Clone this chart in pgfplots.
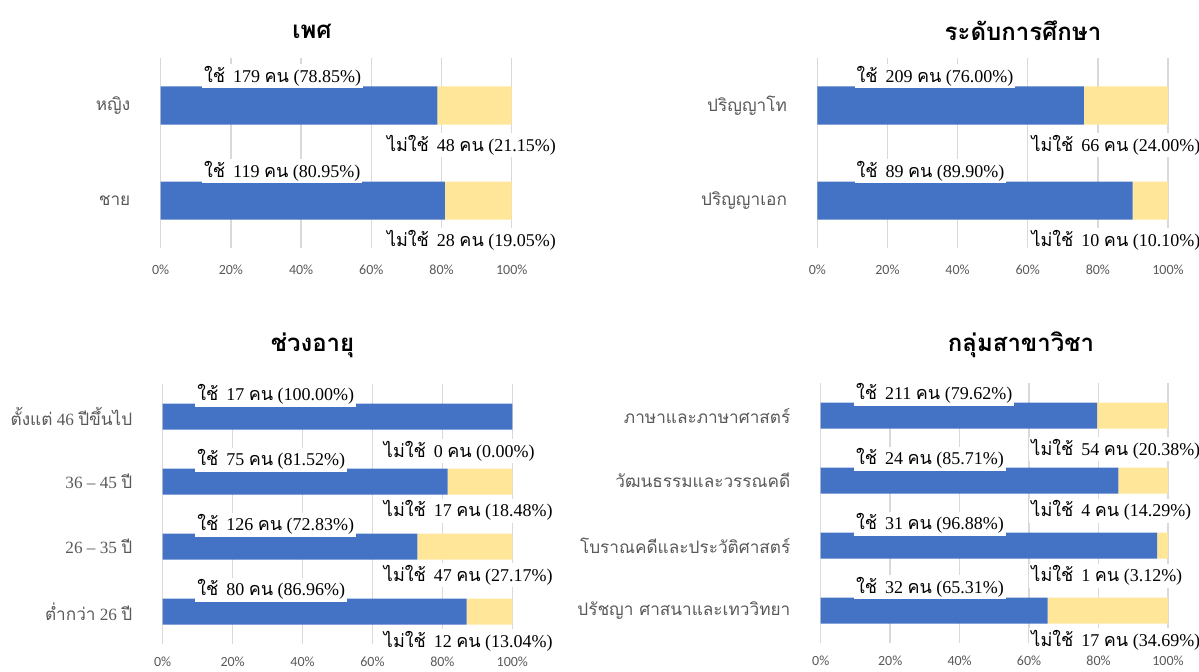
\documentclass[border=0pt]{standalone}
\usepackage{fontspec}
\setmainfont{Liberation Serif}
\newfontfamily\thai[Script=Thai]{Loma}
\newfontfamily\carlito{Carlito}
\usepackage{pgfplots}
\pgfplotsset{compat=1.18}
\definecolor{barblue}{HTML}{4472C4}
\definecolor{baryel}{HTML}{FFE699}
\definecolor{txtgray}{HTML}{595959}
\definecolor{gridgray}{HTML}{D9D9D9}
\newcommand{\T}[1]{{\thai #1}}
\newcommand{\lab}[3]{\node[anchor=base west, fill=white, inner sep=1pt, font=\fontsize{9}{10}\selectfont] at (axis cs:#1,#2) {#3};}
\newcommand{\yes}[2]{\T{ใช้}\hspace{4pt}#1 \T{คน} (#2\%)}
\newcommand{\no}[2]{\T{ไม่ใช้}\hspace{4pt}#1 \T{คน} (#2\%)}
\pgfplotsset{panel/.style={
  xbar stacked, scale only axis, anchor=south west,
  y dir=reverse, xmin=0, xmax=100, xtick={0,20,40,60,80,100},
  xticklabels={0\%,20\%,40\%,60\%,80\%,100\%},
  xmajorgrids, major grid style={gridgray, line width=0.75pt},
  axis line style={draw=none}, major tick length=0pt,
  tick style={draw=none},
  xticklabel style={font=\carlito\fontsize{7}{8}\selectfont, text=txtgray, anchor=center, inner sep=0pt, yshift=-11pt},
  yticklabel style={font=\fontsize{8.6}{10}\selectfont, text=txtgray, anchor=east, inner sep=0pt, xshift=-15pt},
  bar width=0.4, ytick={0,1,2,3},
  clip=false,
}}
\begin{document}
\begin{tikzpicture}
\path[use as bounding box] (0,0) rectangle (599.5pt,335.5pt);
% titles
\node[font=\thai\bfseries\fontsize{12}{14}\selectfont] at (156pt,320pt) {เพศ};
\node[font=\thai\bfseries\fontsize{12}{14}\selectfont] at (511.5pt,320pt) {ระดับการศึกษา};
\node[font=\thai\bfseries\fontsize{12}{14}\selectfont] at (156.25pt,163pt) {ช่วงอายุ};
\node[font=\thai\bfseries\fontsize{12}{14}\selectfont] at (510.5pt,163pt) {กลุ่มสาขาวิชา};

% Panel 1: gender
\begin{axis}[panel, at={(80.35pt,211.5pt)}, width=175.5pt, height=95pt,
  ymin=-0.5, ymax=1.5, yticklabels={\T{หญิง},\T{ชาย}}]
\lab{11.7}{-0.245}{\yes{179}{78.85}}
\lab{63.8}{0.48}{\no{48}{21.15}}
\lab{11.7}{0.755}{\yes{119}{80.95}}
\lab{63.8}{1.48}{\no{28}{19.05}}
\addplot[fill=barblue, draw=none] coordinates {(78.85,0) (80.95,1)};
\addplot[fill=baryel, draw=none] coordinates {(21.15,0) (19.05,1)};
\end{axis}

% Panel 2: education
\begin{axis}[panel, at={(408.65pt,211.5pt)}, width=175.35pt, height=95pt,
  ymin=-0.5, ymax=1.5, yticklabels={\T{ปริญญาโท},\T{ปริญญาเอก}}]
\lab{10.5}{-0.245}{\yes{209}{76.00}}
\lab{60.4}{0.48}{\no{66}{24.00}}
\lab{10.5}{0.755}{\yes{89}{89.90}}
\lab{60.4}{1.48}{\no{10}{10.10}}
\addplot[fill=barblue, draw=none] coordinates {(76.00,0) (89.90,1)};
\addplot[fill=baryel, draw=none] coordinates {(24.00,0) (10.10,1)};
\end{axis}

% Panel 3: age
\begin{axis}[panel, at={(81.35pt,13.5pt)}, width=174.8pt, height=130pt,
  ymin=-0.5, ymax=3.5, xticklabel style={yshift=2pt},
  yticklabels={{\T{ตั้งแต่} 46 \T{ปีขึ้นไป}},{36 -- 45 \T{ปี}},{26 -- 35 \T{ปี}},{\T{ต่ำกว่า} 26 \T{ปี}}}]
\lab{9.2}{-0.24}{\yes{17}{100.00}}
\lab{62.6}{0.63}{\no{0}{0.00}}
\lab{9.2}{0.76}{\yes{75}{81.52}}
\lab{62.6}{1.546}{\no{17}{18.48}}
\lab{9.2}{1.76}{\yes{126}{72.83}}
\lab{62.6}{2.538}{\no{47}{27.17}}
\lab{9.2}{2.76}{\yes{80}{86.96}}
\lab{62.6}{3.55}{\no{12}{13.04}}
\addplot[fill=barblue, draw=none] coordinates {(100,0) (81.52,1) (72.83,2) (86.96,3)};
\addplot[fill=baryel, draw=none] coordinates {(0,0) (18.48,1) (27.17,2) (13.04,3)};
\end{axis}

% Panel 4: field
\begin{axis}[panel, at={(410.35pt,14pt)}, width=173.65pt, height=130pt,
  ymin=-0.5, ymax=3.5, xticklabel style={yshift=2pt},
  yticklabels={\T{ภาษาและภาษาศาสตร์},\T{วัฒนธรรมและวรรณคดี},\T{โบราณคดีและประวัติศาสตร์},\T{ปรัชญา ศาสนาและเทววิทยา}}]
\lab{9.5}{-0.24}{\yes{211}{79.62}}
\lab{60}{0.61}{\no{54}{20.38}}
\lab{9.5}{0.76}{\yes{24}{85.71}}
\lab{60}{1.56}{\no{4}{14.29}}
\lab{9.5}{1.76}{\yes{31}{96.88}}
\lab{60}{2.56}{\no{1}{3.12}}
\lab{9.5}{2.74}{\yes{32}{65.31}}
\lab{60}{3.55}{\no{17}{34.69}}
\addplot[fill=barblue, draw=none] coordinates {(79.62,0) (85.71,1) (96.88,2) (65.31,3)};
\addplot[fill=baryel, draw=none] coordinates {(20.38,0) (14.29,1) (3.12,2) (34.69,3)};
\end{axis}
\end{tikzpicture}
\end{document}
